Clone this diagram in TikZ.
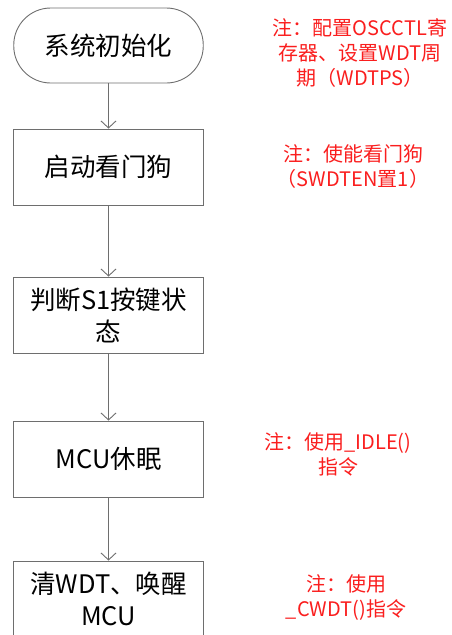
\documentclass[tikz,border=0pt]{standalone}
\usepackage{fontspec}
\setmainfont{Noto Sans CJK SC}
\usetikzlibrary{arrows.meta}
\definecolor{linegray}{RGB}{110,110,110}
\definecolor{notered}{RGB}{250,30,30}
\begin{document}
\begin{tikzpicture}[x=1pt,y=-1pt,
  flow/.style={draw=linegray, line width=0.9pt, minimum width=189.5pt, minimum height=76pt, inner sep=0pt, align=center, font=\fontsize{25.5}{32}\selectfont},
  note/.style={text=notered, align=center, inner sep=0pt, font=\fontsize{20}{25}\selectfont},
  arr/.style={draw=linegray, line width=0.9pt, -{Straight Barb[length=7pt,width=15pt]}}]
\clip (0,0) rectangle (451,635);
\node[flow, minimum height=75pt, rounded corners=37pt] (n1) at (108.5,45.5) {系统初始化};
\node[flow] (n2) at (108.5,167) {启动看门狗};
\node[flow] (n3) at (108.5,315) {判断S1按键状\\态};
\node[flow] (n4) at (108.5,459) {MCU休眠};
\node[flow] (n5) at (108.5,599) {清WDT、唤醒\\MCU};
\draw[arr] (n1) -- (n2);
\draw[arr] (n2) -- (n3);
\draw[arr] (n3) -- (n4);
\draw[arr] (n4) -- (n5);
\node[note] (c1) at (360,53) {注：配置OSCCTL寄\\存器、设置WDT周\\期（WDTPS）};
\node[note] (c2) at (353,166.5) {注：使能看门狗\\（SWDTEN置1）};
\node[note] (c3) at (338,454.5) {注：使用\_IDLE()\\指令};
\node[note] (c4) at (346,597.5) {注：使用\\\_CWDT()指令};
\end{tikzpicture}
\end{document}
